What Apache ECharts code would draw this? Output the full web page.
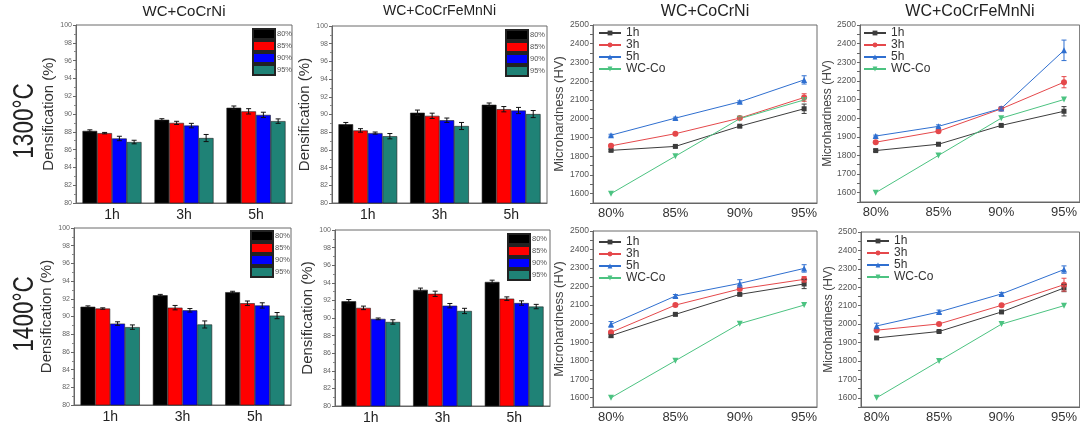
<!DOCTYPE html>
<html><head><meta charset="utf-8">
<script src="https://cdn.jsdelivr.net/npm/echarts@6/dist/echarts.min.js"></script>
<style>html,body{margin:0;padding:0;background:#fff}#c{width:1080px;height:427px}</style>
</head><body><div id="c"></div>
<script>
// ---------- DATA ----------
const barCategories = ['1h', '3h', '5h'];
const barSeriesNames = ['80%', '85%', '90%', '95%'];
const barColors = ['#000000', '#ff0000', '#0000ff', '#1f8276'];

// Densification (%) — rows: 80%,85%,90%,95%; columns: 1h,3h,5h
const dens1300CoCrNi = [[88.1, 89.35, 90.7], [87.85, 89.0, 90.3], [87.25, 88.7, 89.9], [86.85, 87.3, 89.2]];
const dens1300CoCrNiErr = [[0.12, 0.12, 0.2], [0.08, 0.18, 0.3], [0.25, 0.25, 0.3], [0.2, 0.4, 0.25]];
const dens1300HEA = [[88.9, 90.2, 91.1], [88.2, 89.85, 90.6], [87.9, 89.35, 90.45], [87.55, 88.7, 90.05]];
const dens1300HEAErr = [[0.2, 0.3, 0.2], [0.2, 0.3, 0.3], [0.12, 0.25, 0.35], [0.3, 0.4, 0.4]];
const dens1400CoCrNi = [[91.1, 92.4, 92.75], [90.9, 91.0, 91.5], [89.2, 90.7, 91.25], [88.8, 89.1, 90.1]];
const dens1400CoCrNiErr = [[0.1, 0.1, 0.1], [0.08, 0.25, 0.25], [0.2, 0.2, 0.3], [0.25, 0.4, 0.35]];
const dens1400HEA = [[91.9, 93.2, 94.1], [91.15, 92.75, 92.2], [89.9, 91.4, 91.7], [89.55, 90.8, 91.3]];
const dens1400HEAErr = [[0.2, 0.2, 0.2], [0.2, 0.3, 0.2], [0.1, 0.25, 0.25], [0.25, 0.3, 0.25]];

const hardCategories = [80, 85, 90, 95];
const hardSeriesNames = ['1h', '3h', '5h', 'WC-Co'];
const hardColors = ['#3d3d3d', '#e5484b', '#2f6fd0', '#4cc381'];
const hardSymbols = ['rect', 'circle', 'triangle', 'triangle'];
const hardSymbolRotate = [0, 0, 0, 180];

// Microhardness (HV) — rows: 1h,3h,5h,WC-Co; columns: 80,85,90,95 %
const hv1300CoCrNi = [[1831, 1852, 1960, 2053], [1855, 1920, 2003, 2113], [1912, 2003, 2090, 2207], [1600, 1800, 2000, 2100]];
const hv1300CoCrNiErr = [[5, 5, 5, 25], [5, 5, 5, 20], [5, 5, 5, 22], [0, 0, 0, 0]];
const hv1300HEA = [[1826, 1860, 1961, 2037], [1871, 1930, 2050, 2193], [1904, 1956, 2052, 2364], [1600, 1800, 2000, 2100]];
const hv1300HEAErr = [[5, 5, 5, 25], [5, 5, 5, 30], [5, 8, 8, 55], [0, 0, 0, 0]];
const hv1400CoCrNi = [[1935, 2050, 2158, 2214], [1953, 2100, 2187, 2239], [1996, 2149, 2217, 2298], [1600, 1800, 2000, 2100]];
const hv1400CoCrNiErr = [[8, 5, 5, 25], [5, 5, 5, 15], [15, 8, 20, 20], [0, 0, 0, 0]];
const hv1400HEA = [[1925, 1960, 2066, 2196], [1967, 2001, 2102, 2214], [1990, 2066, 2164, 2296], [1600, 1800, 2000, 2100]];
const hv1400HEAErr = [[5, 5, 5, 20], [5, 5, 5, 35], [15, 10, 8, 20], [0, 0, 0, 0]];

const yTitleBar = 'Densification (%)';
const yTitleLine = 'Microhardness (HV)';
const tempLabels = ['1300°C', '1400°C'];

// ---------- LAYOUT ----------
const FONT = 'Liberation Sans, Arial, sans-serif';
const BAR_GAP = 0.18;
const panels = [
  {kind: 'bar', title: 'WC+CoCrNi', tSize: 15, vals: dens1300CoCrNi, errs: dens1300CoCrNiErr, grid: {left: 76, top: 25, width: 216, height: 178}, nameGap: 20, legend: {left: 252, top: 28}},
  {kind: 'bar', title: 'WC+CoCrFeMnNi', tSize: 14, vals: dens1300HEA, errs: dens1300HEAErr, grid: {left: 332, top: 26, width: 215, height: 177}, nameGap: 18, legend: {left: 505, top: 29}},
  {kind: 'line', title: 'WC+CoCrNi', tSize: 16, vals: hv1300CoCrNi, errs: hv1300CoCrNiErr, grid: {left: 593, top: 25, width: 224, height: 178}, nameGap: 25, xr: [78.6, 96.0], legend: {left: 598, top: 27}, nSize: 13},
  {kind: 'line', title: 'WC+CoCrFeMnNi', tSize: 16, vals: hv1300HEA, errs: hv1300HEAErr, grid: {left: 860, top: 25, width: 224, height: 177}, nameGap: 23, xr: [78.75, 96.25], legend: {left: 863, top: 27}, nSize: 12},
  {kind: 'bar', vals: dens1400CoCrNi, errs: dens1400CoCrNiErr, grid: {left: 74, top: 228, width: 217, height: 177}, nameGap: 18, legend: {left: 250, top: 230}},
  {kind: 'bar', vals: dens1400HEA, errs: dens1400HEAErr, grid: {left: 335, top: 230, width: 215, height: 176}, nameGap: 18, legend: {left: 507, top: 233}},
  {kind: 'line', vals: hv1400CoCrNi, errs: hv1400CoCrNiErr, grid: {left: 593, top: 231, width: 224, height: 176}, nameGap: 24, xr: [78.6, 96.0], legend: {left: 598, top: 236}, nSize: 13},
  {kind: 'line', vals: hv1400HEA, errs: hv1400HEAErr, grid: {left: 861, top: 232, width: 224, height: 175}, nameGap: 23, xr: [78.75, 96.25], legend: {left: 866, top: 235}, nSize: 12}
];

const grids = [], xAxes = [], yAxes = [], series = [], legends = [], titles = [];
const axisLineStyle = {color: '#666', width: 1};

panels.forEach((p, k) => {
  grids.push(Object.assign({show: true, borderColor: '#6a6a6a', borderWidth: 1, containLabel: false}, p.grid));
  if (p.title) {
    titles.push({text: p.title, left: p.grid.left + p.grid.width / 2 - (k === 3 ? 2 : 0), top: 4, textAlign: 'center', padding: 0,
      textStyle: {fontFamily: FONT, fontSize: p.tSize, fontWeight: 'normal', color: '#222'}});
  }
  if (p.kind === 'bar') {
    xAxes.push({type: 'category', gridIndex: k, data: barCategories,
      axisLine: {lineStyle: axisLineStyle}, axisTick: {show: false},
      axisLabel: {fontFamily: FONT, fontSize: 14, color: '#222', margin: 5}});
    yAxes.push({type: 'value', gridIndex: k, min: 80, max: 100, interval: 2,
      name: yTitleBar, nameLocation: 'middle', nameGap: p.nameGap,
      nameTextStyle: {fontFamily: FONT, fontSize: 15, color: '#333'},
      axisLine: {show: true, lineStyle: axisLineStyle},
      axisTick: {show: true, length: 3, lineStyle: {color: '#666'}},
      minorTick: {show: true, splitNumber: 2, length: 2, lineStyle: {color: '#888'}},
      splitLine: {show: false},
      axisLabel: {fontFamily: FONT, fontSize: 7, color: '#666', margin: 4}});
    p.vals.forEach((row, si) => {
      series.push({type: 'bar', name: barSeriesNames[si], xAxisIndex: k, yAxisIndex: k,
        data: row, barGap: '0%', barCategoryGap: (BAR_GAP * 100) + '%',
        itemStyle: {color: barColors[si], borderColor: '#222', borderWidth: 0.6},
        emphasis: {disabled: true}, animation: false});
    });
    const ed = [];
    p.vals.forEach((row, si) => row.forEach((v, ci) => ed.push([ci, v, p.errs[si][ci], si])));
    series.push({type: 'custom', xAxisIndex: k, yAxisIndex: k, data: ed, z: 10, animation: false,
      encode: {x: 0, y: 1},
      renderItem: function (params, api) {
        const ci = api.value(0), v = api.value(1), e = api.value(2), si = api.value(3);
        const bw = api.size([1, 0])[0] * (1 - BAR_GAP) / 4;
        const c = api.coord([ci, v]);
        const x = c[0] + (si - 1.5) * bw;
        const t = api.coord([ci, v + e])[1], b = api.coord([ci, v - e])[1];
        const st = {stroke: '#111', lineWidth: 1};
        return {type: 'group', children: [
          {type: 'line', shape: {x1: x, y1: t, x2: x, y2: b}, style: st},
          {type: 'line', shape: {x1: x - 2.5, y1: t, x2: x + 2.5, y2: t}, style: st},
          {type: 'line', shape: {x1: x - 2.5, y1: b, x2: x + 2.5, y2: b}, style: st}]};
      }});
    legends.push({data: barSeriesNames, orient: 'vertical', left: p.legend.left, top: p.legend.top,
      padding: 0, itemGap: 0, itemWidth: 22, itemHeight: 10, icon: 'rect', selectedMode: false,
      textStyle: {fontFamily: FONT, fontSize: 7.5, color: '#555', lineHeight: 10, padding: [0, 0, 0, -3]}});
  } else {
    xAxes.push({type: 'value', gridIndex: k, min: p.xr[0], max: p.xr[1],
      axisLine: {lineStyle: axisLineStyle}, axisTick: {show: false},
      splitLine: {show: false},
      axisLabel: {fontFamily: FONT, fontSize: 13, color: '#333', margin: 4, formatter: '{value}%',
        customValues: hardCategories, showMinLabel: true, showMaxLabel: true}});
    yAxes.push({type: 'value', gridIndex: k, min: 1550, max: 2500, interval: 50,
      name: yTitleLine, nameLocation: 'middle', nameGap: p.nameGap,
      nameTextStyle: {fontFamily: FONT, fontSize: p.nSize, color: '#444'},
      axisLine: {show: true, lineStyle: axisLineStyle},
      axisTick: {show: true, length: 3, lineStyle: {color: '#666'}},
      splitLine: {show: false},
      axisLabel: {fontFamily: FONT, fontSize: 8.5, color: '#555', margin: 4,
        formatter: v => (v % 100 === 0 ? String(v) : '')}});
    p.vals.forEach((row, si) => {
      series.push({type: 'line', name: hardSeriesNames[si], xAxisIndex: k, yAxisIndex: k,
        data: hardCategories.map((x, i) => [x, row[i]]),
        symbol: hardSymbols[si], symbolRotate: hardSymbolRotate[si], symbolSize: si === 0 ? 5 : 6,
        showSymbol: true, color: hardColors[si],
        lineStyle: {width: 1, color: hardColors[si]}, itemStyle: {color: hardColors[si]},
        emphasis: {disabled: true}, animation: false, z: 3});
      series.push({type: 'custom', xAxisIndex: k, yAxisIndex: k, z: 4, animation: false,
        data: hardCategories.map((x, i) => [x, row[i], p.errs[si][i]]).filter(d => d[2] > 0),
        encode: {x: 0, y: 1},
        renderItem: (function (col) {
          return function (params, api) {
            const x = api.value(0), v = api.value(1), e = api.value(2);
            const t = api.coord([x, v + e]), b = api.coord([x, v - e]);
            const st = {stroke: col, lineWidth: 1};
            return {type: 'group', children: [
              {type: 'line', shape: {x1: t[0], y1: t[1], x2: b[0], y2: b[1]}, style: st},
              {type: 'line', shape: {x1: t[0] - 2.5, y1: t[1], x2: t[0] + 2.5, y2: t[1]}, style: st},
              {type: 'line', shape: {x1: b[0] - 2.5, y1: b[1], x2: b[0] + 2.5, y2: b[1]}, style: st}]};
          };
        })(hardColors[si])});
    });
    legends.push({data: hardSeriesNames, orient: 'vertical', left: p.legend.left, top: p.legend.top,
      padding: 0, itemGap: 0, itemWidth: 22, itemHeight: 6, selectedMode: false,
      textStyle: {fontFamily: FONT, fontSize: 12, color: '#333', lineHeight: 11.5}});
  }
});

const graphics = [
  {type: 'text', x: 25, y: 121, rotation: Math.PI / 2, scaleX: 0.75,
    style: {text: tempLabels[0], font: '30px ' + FONT, fill: '#222', textAlign: 'center', textVerticalAlign: 'middle'}},
  {type: 'text', x: 25, y: 314, rotation: Math.PI / 2, scaleX: 0.75,
    style: {text: tempLabels[1], font: '30px ' + FONT, fill: '#222', textAlign: 'center', textVerticalAlign: 'middle'}}
];

const chart = echarts.init(document.getElementById('c'), null, {renderer: 'canvas'});
chart.setOption({
  animation: false,
  backgroundColor: '#fff',
  title: titles,
  grid: grids,
  xAxis: xAxes,
  yAxis: yAxes,
  legend: legends,
  series: series,
  graphic: graphics
});
</script></body></html>
